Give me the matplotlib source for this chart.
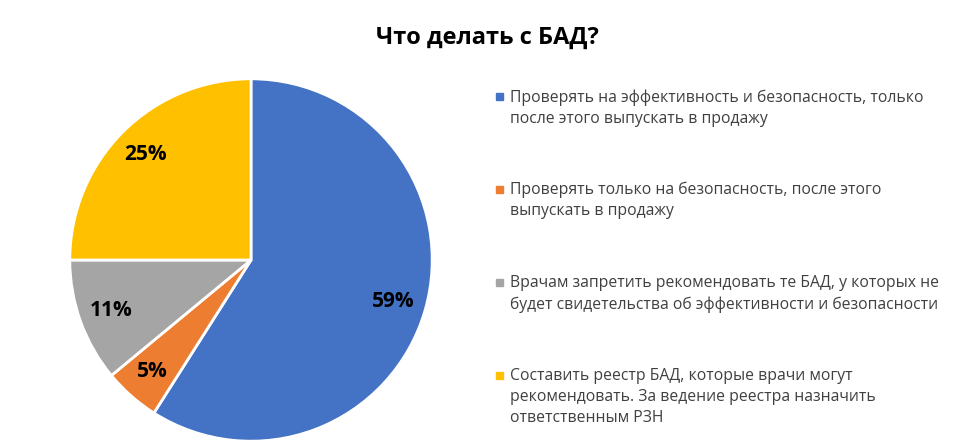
import matplotlib.pyplot as plt
from matplotlib.patches import Rectangle

plt.rcParams['font.family'] = ['Open Sans', 'DejaVu Sans']

# data
title = 'Что делать с БАД?'
labels = [
    'Проверять на эффективность и безопасность, только\nпосле этого выпускать в продажу',
    'Проверять только на безопасность, после этого\nвыпускать в продажу',
    'Врачам запретить рекомендовать те БАД, у которых не\nбудет свидетельства об эффективности и безопасности',
    'Составить реестр БАД, которые врачи могут\nрекомендовать. За ведение реестра назначить\nответственным РЗН',
]
shares = [59, 5, 11, 25]
colors = ['#4472C4', '#ED7D31', '#A5A5A5', '#FFC000']

W, H = 974, 444
fig = plt.figure(figsize=(W / 100, H / 100), dpi=100)

# pie: center ~ (251, 260) px, radius ~183 px
cx, cy, r = 251, 260, 183
ax = fig.add_axes([(cx - r) / W, (H - cy - r) / H, 2 * r / W, 2 * r / H])
wedges, texts, autotexts = ax.pie(
    shares, colors=colors, startangle=90, counterclock=False,
    autopct=lambda p: '%.0f%%' % p, pctdistance=0.82,
    wedgeprops=dict(edgecolor='white', linewidth=2),
    textprops=dict(fontsize=15, fontweight='bold', color='black'))
ax.set_xlim(-1.01, 1.01)
ax.set_ylim(-1.01, 1.01)
ax.set_aspect('equal')

fig.text(487 / W, 1 - 38 / H, title, ha='center', va='center',
         fontsize=17, fontweight='bold')

# legend, drawn by hand
y0 = 96
step = 93
for i, (lab, c) in enumerate(zip(labels, colors)):
    y = y0 + i * step
    fig.patches.append(Rectangle((496 / W, 1 - (y + 4) / H), 7 / W, 7 / H,
                                 transform=fig.transFigure, color=c))
    fig.text(510 / W, 1 - (y - 7) / H, lab, ha='left', va='top',
             fontsize=11.3, color='#404040', linespacing=1.42)

fig.savefig('out.png', dpi=100)
